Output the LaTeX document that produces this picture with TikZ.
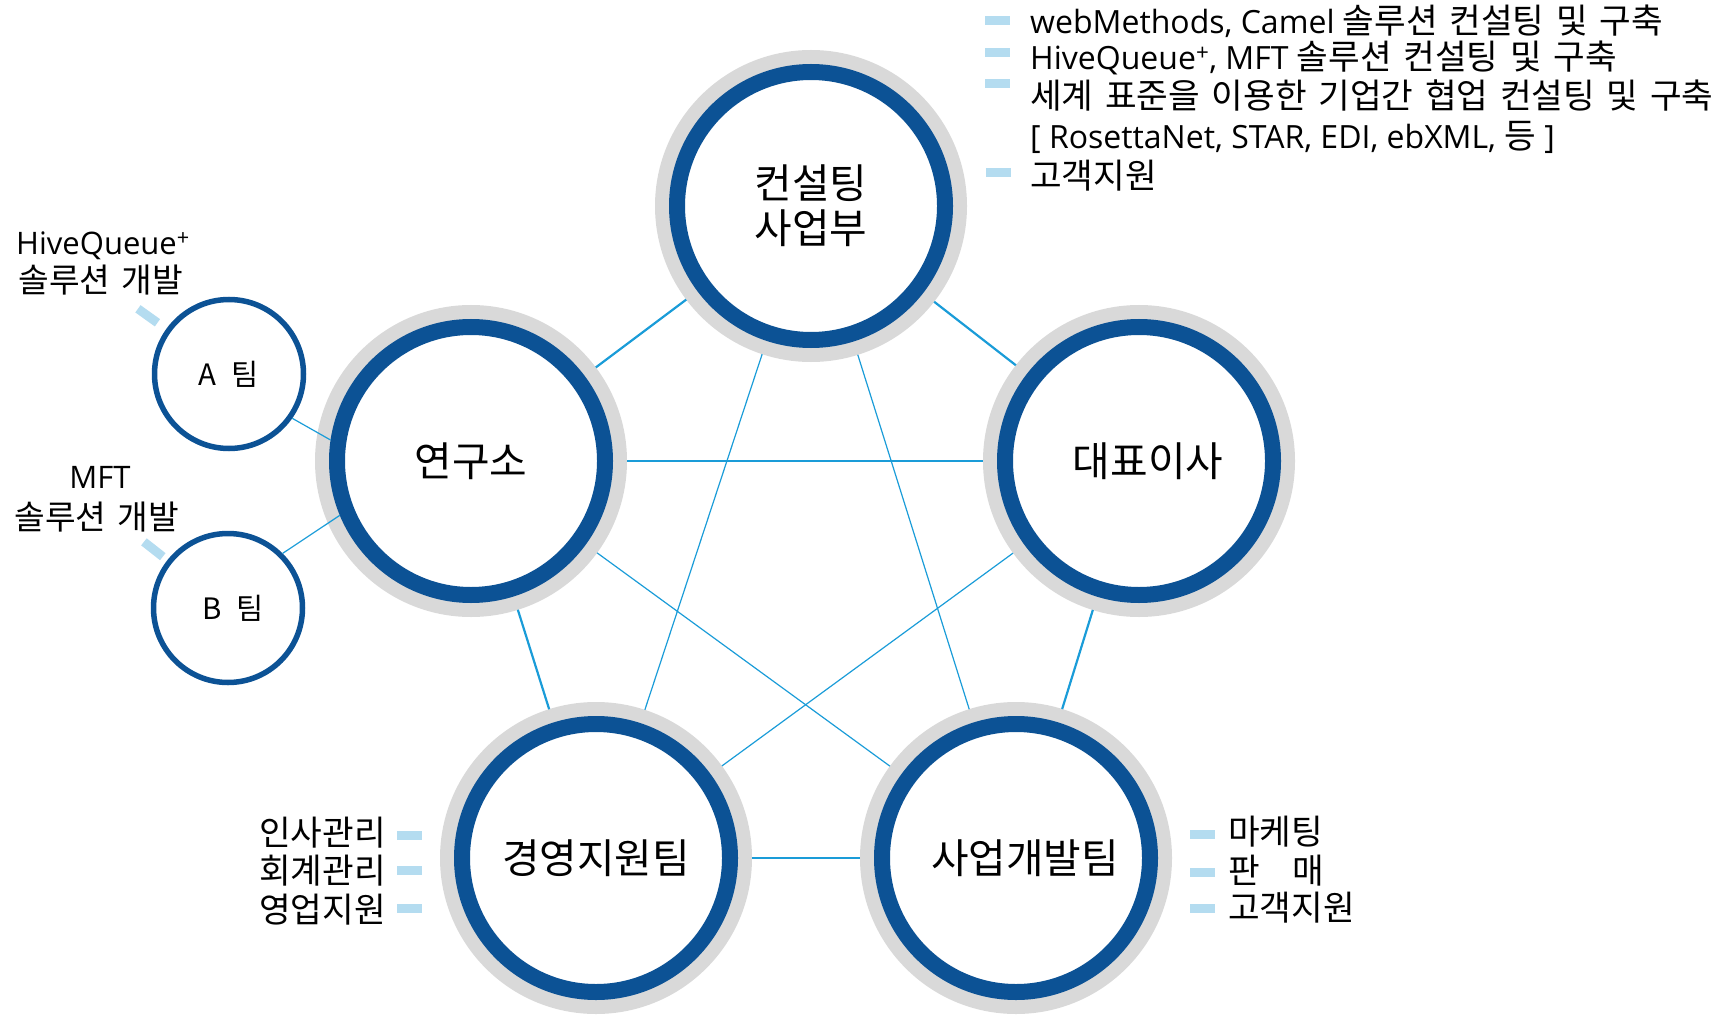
\documentclass[tikz,border=0pt]{standalone}
\usepackage{fontspec}
\setmainfont{Open Sans}
\newfontfamily\kr{Noto Sans CJK KR}[Scale=1.075, WordSpace=1.52]
\definecolor{ringblue}{HTML}{0C5295}
\definecolor{ringgray}{HTML}{D9D9D9}
\definecolor{linkblue}{HTML}{1A9CD8}
\definecolor{bulletblue}{HTML}{B4DCF0}
\begin{document}
\begin{tikzpicture}[x=1pt,y=-1pt,
  bigc/.style={circle, draw=ringblue, line width=16pt, fill=white,
    minimum size=268pt, inner sep=0pt, outer sep=22pt,
    preaction={draw=ringgray, line width=44pt},
    font=\kr\fontsize{38}{45}\selectfont, align=center},
  smallc/.style={circle, draw=ringblue, line width=5.5pt, fill=white,
    minimum size=149pt, inner sep=0pt, outer sep=2.75pt,
    font=\kr\fontsize{27.4}{32}\selectfont},
  edgethick/.style={draw=linkblue, line width=2.2pt},
  edgethin/.style={draw=linkblue, line width=1.2pt},
  markbar/.style={draw=bulletblue, line width=9pt},
  bulletbox/.style={rectangle, fill=bulletblue, minimum width=25pt,
    minimum height=9pt, inner sep=0pt},
  listtext/.style={anchor=base west, inner sep=0pt,
    font=\fontsize{32}{36}\selectfont},
  labtext/.style={anchor=base, inner sep=0pt,
    font=\fontsize{31}{36}\selectfont}]
\useasboundingbox (0,0) rectangle (1734,1016);

% main circles
\node[bigc] (kon) at (811,206) {컨설팅\\사업부};
\node[bigc] (yon) at (471,461) {연구소};
\node[bigc] (dae) at (1139,461) {\hspace*{18pt}대표이사};
\node[bigc] (gyeong) at (596,858) {경영지원팀};
\node[bigc] (saeop) at (1016,858) {\hspace*{18pt}사업개발팀};

% small circles
\node[smallc] (ateam) at (229,374) {A \hspace{5pt}팀};
\node[smallc] (bteam) at (228,608) {\hspace*{10pt}B \hspace{5pt}팀};

% pentagon edges
\draw[edgethick] (kon) -- (yon);
\draw[edgethick] (kon) -- (dae);
\draw[edgethick] (yon) -- (gyeong);
\draw[edgethick] (dae) -- (saeop);
\draw[edgethick] (gyeong) -- (saeop);
% diagonals
\draw[edgethin] (kon) -- (gyeong);
\draw[edgethin] (kon) -- (saeop);
\draw[edgethin] (yon) -- (dae);
\draw[edgethin] (yon) -- (saeop);
\draw[edgethin] (dae) -- (gyeong);
% team links
\coordinate (yonA) at ([shift={(171.5:142pt)}]yon.center);
\coordinate (yonB) at ([shift={(202.5:142pt)}]yon.center);
\draw[edgethin] (ateam.-35) -- (yonA);
\draw[edgethin] (bteam.45) -- (yonB);

% team labels
\draw[markbar] ([shift={(144.4:88pt)}]ateam.center) -- ([shift={(144.4:112pt)}]ateam.center);
\draw[markbar] ([shift={(141.8:83pt)}]bteam.center) -- ([shift={(141.8:107pt)}]bteam.center);
\node[labtext] (alab1) at (103,255) {HiveQueue\textsuperscript{+}};
\node[labtext] (alab2) at (101,293) {\kr 솔루션 개발};
\node[labtext] (blab1) at (100,488) {MFT};
\node[labtext] (blab2) at (97,529) {\kr 솔루션 개발};

% top-right list
\node[bulletbox] (tb1) at (997,21) {};
\node[bulletbox] (tb2) at (997,53) {};
\node[bulletbox] (tb3) at (997,84) {};
\node[bulletbox] (tb5) at (998,173) {};
\node[listtext] (t1) at (1030,34) {webMethods, Camel {\kr 솔루션 컨설팅 및 구축}};
\node[listtext] (t2) at (1030,70) {HiveQueue\textsuperscript{+}, MFT {\kr 솔루션 컨설팅 및 구축}};
\node[listtext] (t3) at (1030,109) {\kr 세계 표준을 이용한 기업간 협업 컨설팅 및 구축};
\node[listtext] (t4) at (1030,149) {[ RosettaNet, STAR, EDI, ebXML, {\kr 등} ]};
\node[listtext] (t5) at (1030,189) {\kr 고객지원};

% bottom-left list
\node[bulletbox] (lb1) at (409,835) {};
\node[bulletbox] (lb2) at (409,870) {};
\node[bulletbox] (lb3) at (409,908) {};
\node[listtext, anchor=base east] (l1) at (386,845) {\kr 인사관리};
\node[listtext, anchor=base east] (l2) at (386,883) {\kr 회계관리};
\node[listtext, anchor=base east] (l3) at (386,922) {\kr 영업지원};

% bottom-right list
\node[bulletbox] (rb1) at (1202,834) {};
\node[bulletbox] (rb2) at (1202,872) {};
\node[bulletbox] (rb3) at (1202,908) {};
\node[listtext] (r1) at (1228,844) {\kr 마케팅};
\node[listtext] (r2) at (1228,883) {\kr 판\hspace{33pt}매};
\node[listtext] (r3) at (1228,920) {\kr 고객지원};
\end{tikzpicture}
\end{document}
